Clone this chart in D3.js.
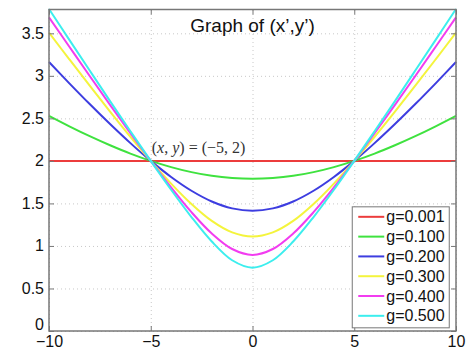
<!DOCTYPE html>
<html>
<head>
<meta charset="utf-8">
<script src="https://cdnjs.cloudflare.com/ajax/libs/d3/7.8.5/d3.min.js"></script>
<style>
  body { margin: 0; background: #fff; }
  svg { display: block; }
  .tick text { font-family: "Liberation Sans", Arial, Helvetica, sans-serif; font-size: 16px; fill: #111; }
  .grid line { stroke: #c8c8c8; stroke-dasharray: 1,3; }
  .grid .domain { display: none; }
</style>
</head>
<body>
<svg width="469" height="351"></svg>
<script>
// data (curves are symmetric around x = 0)
var xs = [-10, -9, -8, -7, -6, -5, -4, -3, -2, -1, 0, 1, 2, 3, 4, 5, 6, 7, 8, 9, 10];

var g001 = [2, 2, 2, 2, 2, 2, 2, 2, 2, 2, 2, 2, 2, 2, 2, 2, 2, 2, 2, 2, 2];
var g100 = [2.530, 2.407, 2.291, 2.184, 2.086, 2.0, 1.927, 1.868, 1.824, 1.798, 1.789,
            1.798, 1.824, 1.868, 1.927, 2.0, 2.086, 2.184, 2.291, 2.407, 2.530];
var g200 = [3.162, 2.912, 2.668, 2.433, 2.209, 2.0, 1.811, 1.649, 1.523, 1.442, 1.414,
            1.442, 1.523, 1.649, 1.811, 2.0, 2.209, 2.433, 2.668, 2.912, 3.162];
var g300 = [3.507, 3.194, 2.884, 2.580, 2.284, 2.0, 1.733, 1.493, 1.294, 1.159, 1.110,
            1.159, 1.294, 1.493, 1.733, 2.0, 2.284, 2.580, 2.884, 3.194, 3.507];
var g400 = [3.687, 3.342, 2.998, 2.659, 2.325, 2.0, 1.688, 1.397, 1.146, 0.964, 0.895,
            0.964, 1.146, 1.397, 1.688, 2.0, 2.325, 2.659, 2.998, 3.342, 3.687];
var g500 = [3.786, 3.423, 3.062, 2.703, 2.349, 2.0, 1.661, 1.340, 1.052, 0.832, 0.745,
            0.832, 1.052, 1.340, 1.661, 2.0, 2.349, 2.703, 3.062, 3.423, 3.786];

var labels = ["g=0.001", "g=0.100", "g=0.200", "g=0.300", "g=0.400", "g=0.500"];
var seriesList = [g001, g100, g200, g300, g400, g500];
var colors = ["#ec3c3c", "#3fe23f", "#3d3de0", "#f4f43c", "#f23cf0", "#3ceeee"];

var xTicks = [-10, -5, 0, 5, 10];
var yTicks = [0, 0.5, 1, 1.5, 2, 2.5, 3, 3.5];
var yTickLabels = ["0", "0.5", "1", "1.5", "2", "2.5", "3", "3.5"];

var margin = {top: 9.5, right: 13, bottom: 20, left: 49},
    width = 469 - margin.left - margin.right,
    height = 351 - margin.top - margin.bottom;

var svg = d3.select("svg")
  .append("g")
    .attr("transform", "translate(" + margin.left + "," + margin.top + ")");

var x = d3.scaleLinear().domain([-10, 10]).range([0, width]);
var y = d3.scaleLinear().domain([0, 3.78]).range([height, 0]);

// dotted grid
svg.append("g")
    .attr("class", "grid")
    .attr("transform", "translate(0," + height + ")")
    .call(d3.axisBottom(x).tickValues(xTicks).tickSize(-height).tickFormat(""));
svg.append("g")
    .attr("class", "grid")
    .call(d3.axisLeft(y).tickValues(yTicks).tickSize(-width).tickFormat(""));

// curves
var line = d3.line()
    .x(function(d, i) { return x(xs[i]); })
    .y(function(d) { return y(d); })
    .curve(d3.curveCatmullRom);

svg.selectAll(".curve")
    .data(seriesList)
  .enter().append("path")
    .attr("class", "curve")
    .attr("d", line)
    .style("fill", "none")
    .style("stroke", function(d, i) { return colors[i]; })
    .style("stroke-width", 2);

// axes with inward ticks on all four sides
function styleAxis(g) {
  g.selectAll(".domain").remove();
  g.selectAll(".tick line").style("stroke", "#777");
}
svg.append("g")
    .attr("transform", "translate(0," + height + ")")
    .call(d3.axisBottom(x).tickValues(xTicks).tickSizeInner(-5).tickSizeOuter(0).tickPadding(5))
    .call(styleAxis);
svg.append("g")
    .call(d3.axisLeft(y).tickValues(yTicks).tickSizeInner(-5).tickSizeOuter(0).tickPadding(5)
      .tickFormat(function(d, i) { return yTickLabels[i]; }))
    .call(styleAxis)
    .selectAll(".tick text")
      .attr("dy", function(d) { return d === 0 ? "-0.12em" : "0.3em"; });
svg.append("g")
    .call(d3.axisTop(x).tickValues(xTicks).tickSizeInner(-5).tickSizeOuter(0).tickFormat(""))
    .call(styleAxis);
svg.append("g")
    .attr("transform", "translate(" + width + ",0)")
    .call(d3.axisRight(y).tickValues(yTicks).tickSizeInner(-5).tickSizeOuter(0).tickFormat(""))
    .call(styleAxis);

svg.append("rect")
    .attr("width", width)
    .attr("height", height)
    .style("fill", "none")
    .style("stroke", "#777")
    .style("stroke-width", 1.5);

// title
svg.append("text")
    .attr("x", width / 2)
    .attr("y", 22)
    .attr("text-anchor", "middle")
    .style("font-family", "'Liberation Sans', Arial, sans-serif")
    .style("font-size", "19px")
    .style("fill", "#111")
    .text("Graph of (x\u2019,y\u2019)");

// annotation at the crossing point
var ann = svg.append("text")
    .attr("x", x(-5) + 1)
    .attr("y", y(2) - 8)
    .style("font-family", "'Liberation Serif', 'Times New Roman', serif")
    .style("font-size", "16px")
    .style("fill", "#333");
ann.append("tspan").text("(");
ann.append("tspan").style("font-style", "italic").text("x");
ann.append("tspan").text(", ");
ann.append("tspan").style("font-style", "italic").text("y");
ann.append("tspan").text(") = (\u22125, 2)");

// legend
var legend = svg.append("g")
    .attr("transform", "translate(" + (x(5) - 2) + "," + (y(1.46)) + ")");

legend.append("rect")
    .attr("width", 97)
    .attr("height", 121)
    .style("fill", "#fff")
    .style("stroke", "#777")
    .style("stroke-width", 1);

var item = legend.selectAll(".item")
    .data(labels)
  .enter().append("g")
    .attr("class", "item")
    .attr("transform", function(d, i) { return "translate(0," + (10 + i * 19.8) + ")"; });

item.append("line")
    .attr("x1", 6)
    .attr("x2", 32)
    .style("stroke", function(d, i) { return colors[i]; })
    .style("stroke-width", 2);

item.append("text")
    .attr("x", 34)
    .attr("dy", "0.35em")
    .style("font-family", "'Liberation Sans', Arial, sans-serif")
    .style("font-size", "16px")
    .style("fill", "#111")
    .text(function(d) { return d; });
</script>
</body>
</html>
